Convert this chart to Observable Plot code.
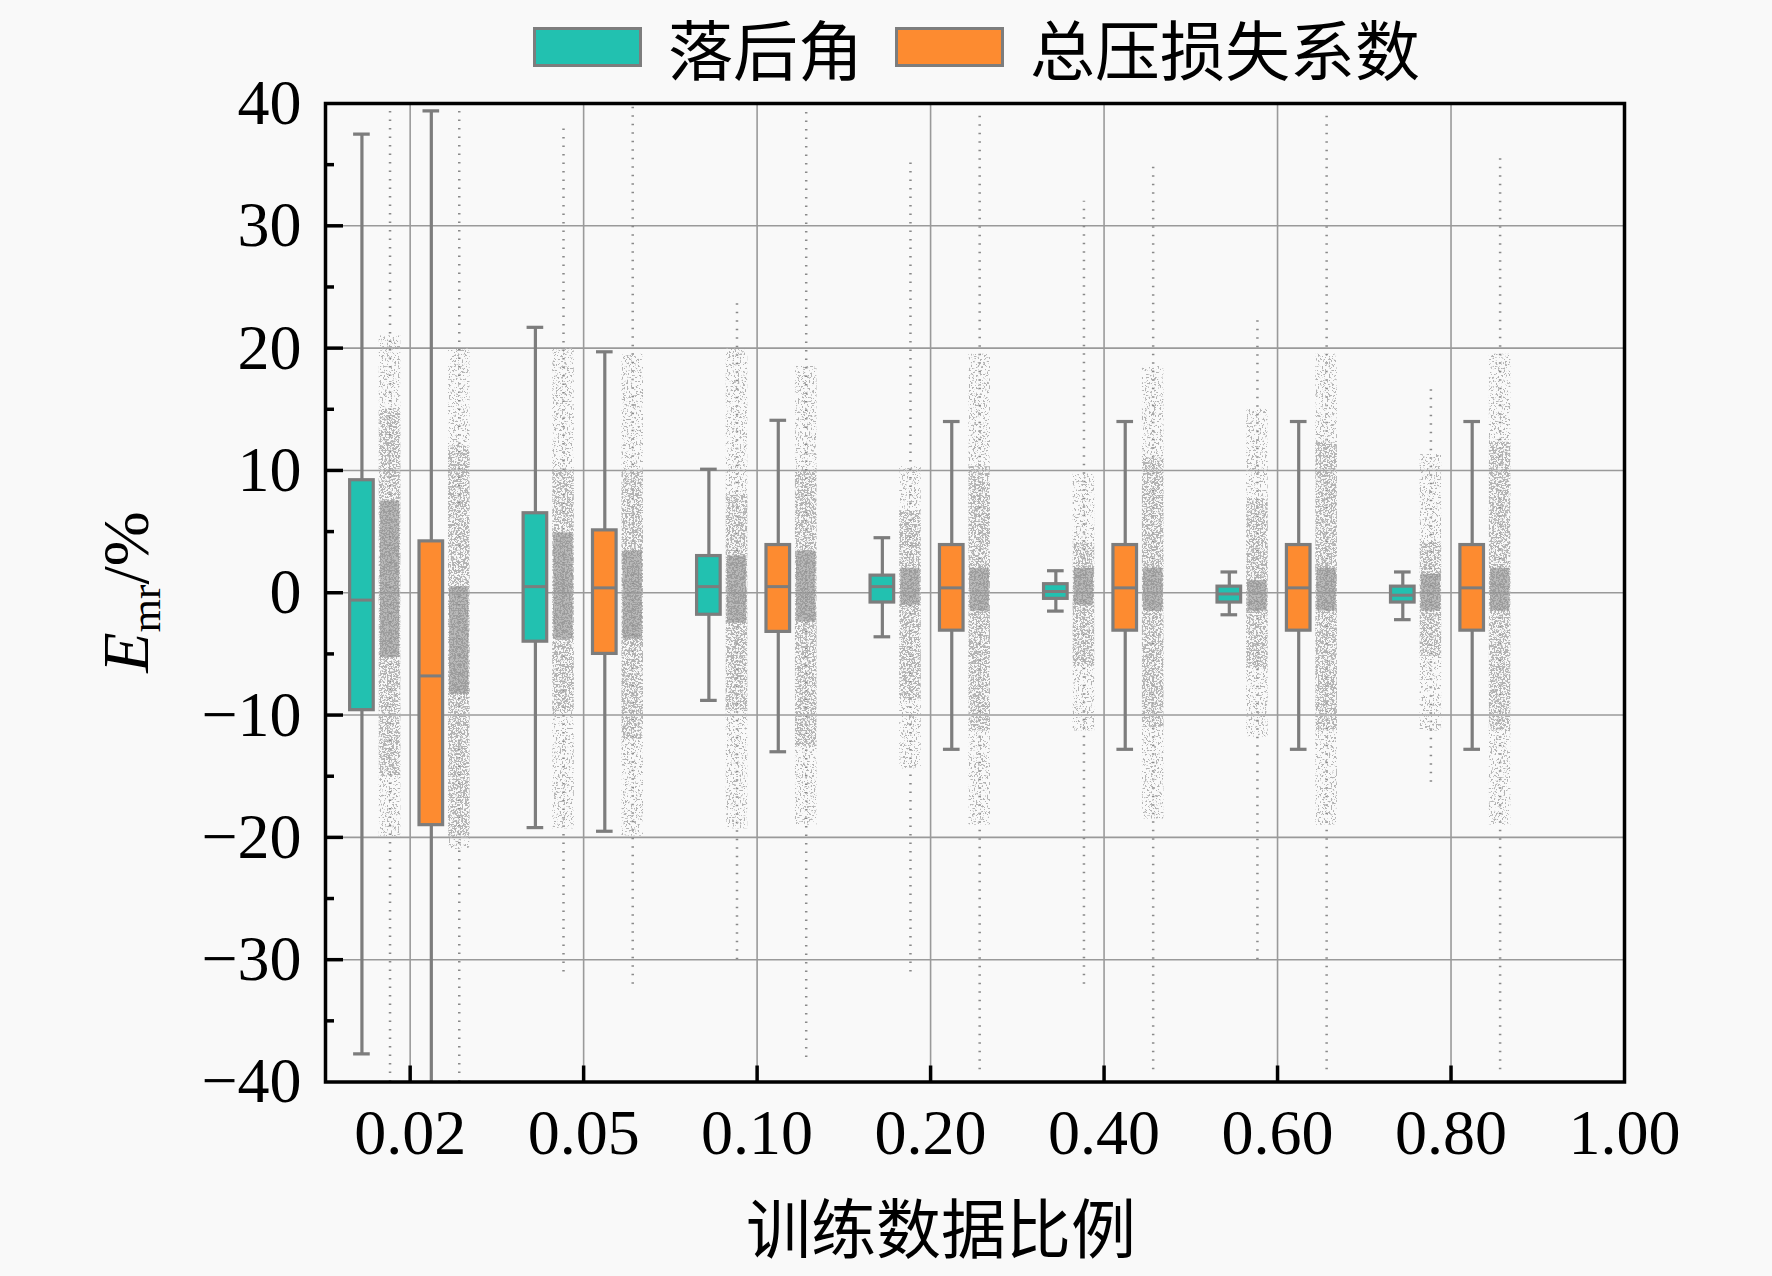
<!DOCTYPE html>
<html>
<head>
<meta charset="utf-8">
<script src="https://cdn.jsdelivr.net/npm/d3@7"></script>
<script src="https://cdn.jsdelivr.net/npm/@observablehq/plot@0.6"></script>
<style>
  html, body { margin: 0; padding: 0; background: #f9f9f9; overflow: hidden; }
  #wrap { position: relative; width: 1772px; height: 1276px; }
  #legend { position: absolute; top: 14px; left: 533px; height: 66px; display: flex; align-items: center;
            font-family: "Noto Sans CJK SC", sans-serif; font-size: 65px; color: #000; }
  .sw { width: 103px; height: 34px; border: 3px solid #7d7d7d; display: inline-block; }
  .lab { margin-left: 26px; margin-right: 32px; line-height: 66px; }
  #chart { position: absolute; top: 90px; left: 0; }
</style>
</head>
<body>
<div id="wrap">
  <div id="legend"></div>
  <div id="chart"></div>
</div>
<script>
// ---------------- data ----------------
const ratios = ["0.02", "0.05", "0.10", "0.20", "0.40", "0.60", "0.80"];
const xTickLabels = ["0.02", "0.05", "0.10", "0.20", "0.40", "0.60", "0.80", "1.00"];
const seriesNames = ["落后角", "总压损失系数"];
const seriesColors = ["#22c1b0", "#fd8b30"];

// box statistics: 落后角 (deviation angle)
const lagWhiskerHigh = [37.5, 21.7, 10.1, 4.5, 1.8, 1.7, 1.7];
const lagQ3          = [9.2, 6.5, 3.0, 1.4, 0.7, 0.5, 0.5];
const lagMedian      = [-0.6, 0.5, 0.5, 0.5, 0.1, -0.1, -0.2];
const lagQ1          = [-9.6, -4.0, -1.8, -0.8, -0.5, -0.8, -0.8];
const lagWhiskerLow  = [-37.7, -19.2, -8.8, -3.6, -1.5, -1.8, -2.2];

// box statistics: 总压损失系数 (total pressure loss coefficient)
const lossWhiskerHigh = [39.4, 19.7, 14.1, 14.0, 14.0, 14.0, 14.0];
const lossQ3          = [4.2, 5.1, 3.9, 3.9, 3.9, 3.9, 3.9];
const lossMedian      = [-6.8, 0.4, 0.5, 0.4, 0.4, 0.4, 0.4];
const lossQ1          = [-19.0, -5.0, -3.2, -3.1, -3.1, -3.1, -3.1];
const lossWhiskerLow  = [-45, -19.5, -13.0, -12.8, -12.8, -12.8, -12.8];

// raw-point column extents (read from the jittered point clouds)
const lagTailLow   = [-40, -31, -30, -31, -32, -30, -15.5];
const lagTailHigh  = [40, 38, 24, 35.6, 32, 22.5, 16.9];
const lagBodyLow   = [-20, -19.3, -19.3, -14.4, -11.3, -11.8, -11.3];
const lagBodyHigh  = [21, 20, 20, 10.3, 9.7, 15, 11.3];
const lagDenseLow  = [-15, -9.7, -9.7, -8.7, -6, -6.2, -5.2];
const lagDenseHigh = [15, 9.9, 8, 6.7, 4, 7.7, 4.1];
const lagCoreLow   = [-5.3, -3.8, -2.5, -1, -1, -1.5, -1.5];
const lagCoreHigh  = [7.5, 4.9, 3.0, 2, 2, 1, 1.5];

const lossTailLow   = [-40, -32, -38, -39, -39, -39, -39];
const lossTailHigh  = [40, 40, 40, 39, 35, 39, 36];
const lossBodyLow   = [-21, -19.9, -19, -19, -18.5, -19, -19];
const lossBodyHigh  = [20, 19.5, 18.5, 19.5, 18.5, 19.5, 19.5];
const lossDenseLow  = [-20, -12, -12.6, -11.3, -11, -11.3, -11.3];
const lossDenseHigh = [12, 10, 9.9, 10.3, 11, 12.3, 12.3];
const lossCoreLow   = [-8.3, -3.8, -2.4, -1.5, -1.5, -1.5, -1.5];
const lossCoreHigh  = [0.5, 3.4, 3.4, 2, 2, 2, 2];

const yTicks = [-40, -30, -20, -10, 0, 10, 20, 30, 40];
const yMinorTicks = [-35, -25, -15, -5, 5, 15, 25, 35];
const yGrid = [-30, -20, -10, 0, 10, 20, 30];

// ---------------- tables ----------------
const boxOffset = [-0.278, 0.122];
const cloudOffset = [-0.116, 0.283];
const boxHalf = 0.068, cloudHalf = 0.062, capHalf = 0.048;

const stats = [
  [lagWhiskerLow, lagQ1, lagMedian, lagQ3, lagWhiskerHigh],
  [lossWhiskerLow, lossQ1, lossMedian, lossQ3, lossWhiskerHigh]
];
const clouds = [
  [lagTailLow, lagTailHigh, lagBodyLow, lagBodyHigh, lagDenseLow, lagDenseHigh, lagCoreLow, lagCoreHigh],
  [lossTailLow, lossTailHigh, lossBodyLow, lossBodyHigh, lossDenseLow, lossDenseHigh, lossCoreLow, lossCoreHigh]
];

const boxes = [];
const cols = [];
ratios.forEach((r, i) => {
  [0, 1].forEach(s => {
    const [lo, q1, med, q3, hi] = stats[s].map(a => a[i]);
    boxes.push({ratio: r, i, s, x: i + boxOffset[s], lo, q1, med, q3, hi});
    const [tl, th, bl, bh, dl, dh, cl, ch] = clouds[s].map(a => a[i]);
    cols.push({ratio: r, i, s, x: i + cloudOffset[s], tl, th, bl, bh, dl, dh, cl, ch});
  });
});

const gray = "#7d7d7d";

const chart = Plot.plot({
  width: 1772,
  height: 1186,
  marginLeft: 325,
  marginRight: 148,
  marginTop: 13,
  marginBottom: 194.5,
  style: {background: "#f9f9f9", fontFamily: "Liberation Serif", overflow: "visible"},
  x: {domain: [-0.488, 7]},
  y: {domain: [-40, 40]},
  marks: [
    // grid
    Plot.ruleY(yGrid, {stroke: "#9a9a9a", strokeWidth: 1.6}),
    Plot.ruleX(d3.range(ratios.length), {stroke: "#9a9a9a", strokeWidth: 1.6}),
    // point clouds
    Plot.ruleX(cols, {x: "x", y1: "tl", y2: "th", stroke: "#8a8a8a", strokeWidth: 2.5, strokeDasharray: "1.5 7", clip: true}),
    Plot.rect(cols, {x1: d => d.x - cloudHalf, x2: d => d.x + cloudHalf, y1: "bl", y2: "bh", fill: "#000", ariaDescription: "cloud-body"}),
    Plot.rect(cols, {x1: d => d.x - cloudHalf, x2: d => d.x + cloudHalf, y1: "dl", y2: "dh", fill: "#000", ariaDescription: "cloud-dense"}),
    Plot.rect(cols, {x1: d => d.x - cloudHalf * 0.9, x2: d => d.x + cloudHalf * 0.9, y1: "cl", y2: "ch", fill: "#8c8c8c", fillOpacity: 0.6}),
    // whiskers
    Plot.ruleX(boxes, {x: "x", y1: "lo", y2: "hi", stroke: gray, strokeWidth: 3.2, clip: true}),
    Plot.ruleY(boxes, {y: "hi", x1: d => d.x - capHalf, x2: d => d.x + capHalf, stroke: gray, strokeWidth: 3.2, clip: true}),
    Plot.ruleY(boxes, {y: "lo", x1: d => d.x - capHalf, x2: d => d.x + capHalf, stroke: gray, strokeWidth: 3.2, clip: true}),
    // boxes
    Plot.rect(boxes, {x1: d => d.x - boxHalf, x2: d => d.x + boxHalf, y1: "q1", y2: "q3",
      fill: d => seriesColors[d.s], stroke: gray, strokeWidth: 3.2}),
    Plot.ruleY(boxes, {y: "med", x1: d => d.x - boxHalf, x2: d => d.x + boxHalf, stroke: gray, strokeWidth: 3}),
    // frame
    Plot.frame({stroke: "#000", strokeWidth: 3.5}),
    // y axis: inward ticks and labels
    Plot.axisY({ticks: yTicks.slice(1, -1), tickSize: -18, tickFormat: () => "", stroke: "#000", strokeWidth: 3.5, label: null}),
    Plot.axisY({ticks: yMinorTicks, tickSize: -9, tickFormat: () => "", stroke: "#000", strokeWidth: 3.5, label: null}),
    Plot.axisY({ticks: yTicks, tickSize: 0, tickPadding: 24, fontSize: 64, fontFamily: "Liberation Serif", fill: "#000", label: null}),
    // x axis
    Plot.axisX({ticks: d3.range(ratios.length), tickSize: -16, tickFormat: () => "", stroke: "#000", strokeWidth: 3.5, label: null}),
    Plot.axisX({ticks: d3.range(xTickLabels.length), tickSize: 0, tickPadding: 27, tickFormat: i => xTickLabels[i],
      fontSize: 64, fontFamily: "Liberation Serif", fill: "#000", label: null}),
    Plot.text(["训练数据比例"], {text: d => d, frameAnchor: "bottom", dx: -34, dy: 150, fontSize: 65,
      fontFamily: "Noto Sans CJK SC", lineAnchor: "middle", fill: "#000"})
  ]
});

document.getElementById("chart").appendChild(chart);

// speckle textures for the point clouds
const svg = d3.select(chart);
const defs = svg.insert("defs", ":first-child");
function speckle(id, slope, intercept, seed) {
  const f = defs.append("filter").attr("id", id)
    .attr("filterUnits", "userSpaceOnUse").attr("x", 0).attr("y", 0).attr("width", 1772).attr("height", 1186);
  f.append("feTurbulence").attr("type", "fractalNoise").attr("baseFrequency", 0.55).attr("numOctaves", 2)
    .attr("seed", seed).attr("result", "n");
  f.append("feColorMatrix").attr("in", "n").attr("type", "matrix")
    .attr("values", `0 0 0 0 0.45  0 0 0 0 0.45  0 0 0 0 0.45  ${slope} 0 0 0 ${intercept}`).attr("result", "m");
  f.append("feComposite").attr("in", "m").attr("in2", "SourceAlpha").attr("operator", "in");
}
speckle("spkBody", 12, -6.8, 3);
speckle("spkDense", 12, -5.9, 11);
svg.selectAll('[aria-description="cloud-body"]').attr("filter", "url(#spkBody)");
svg.selectAll('[aria-description="cloud-dense"]').attr("filter", "url(#spkDense)");

// y axis title: E_mr/%
const yt = svg.append("text")
  .attr("transform", "translate(148,502) rotate(-90)")
  .attr("text-anchor", "middle")
  .attr("font-family", "Liberation Serif")
  .attr("font-size", 66)
  .attr("fill", "#000");
yt.append("tspan").attr("font-style", "italic").text("E");
yt.append("tspan").attr("font-size", 43).attr("dy", 12).text("mr");
yt.append("tspan").attr("dy", -12).text("/%");

// legend
const legend = d3.select("#legend");
seriesNames.forEach((name, s) => {
  legend.append("span").attr("class", "sw").style("background", seriesColors[s]);
  legend.append("span").attr("class", "lab").text(name);
});
</script>
</body>
</html>
